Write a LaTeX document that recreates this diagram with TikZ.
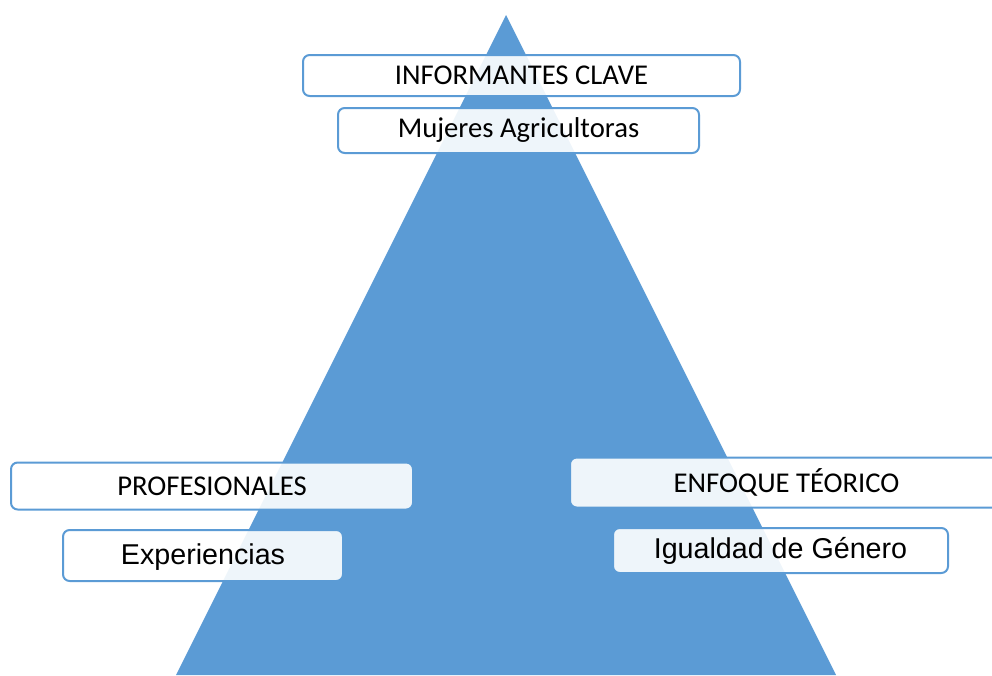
\documentclass[tikz,border=0pt]{standalone}
\usepackage{fontspec}
\newfontfamily\calibrifont{Carlito}
\newfontfamily\arialfont{Liberation Sans}
\definecolor{pyrblue}{HTML}{5B9BD5}
\begin{document}
\begin{tikzpicture}[x=0.75pt,y=-0.75pt,
  box/.style={draw=pyrblue,line width=1.5pt,rounded corners=5pt,fill=white,fill opacity=0.9,text opacity=1,inner sep=0pt},
  capstext/.style={font=\calibrifont\fontsize{21.5}{26}\selectfont},
  plaintext/.style={font=\arialfont\fontsize{21.5}{26}\selectfont}]
\useasboundingbox (0,0) rectangle (992,675);
\clip (0,0) rectangle (992,675);

%Triangle
\fill [pyrblue] (506,15) -- (836,675) -- (176,675) -- cycle;

%Top: informantes
\node [box,capstext,minimum width=437*0.75pt,minimum height=41*0.75pt] (informantes) at (521.5,75.5) {INFORMANTES CLAVE};
\node [box,capstext,minimum width=361*0.75pt,minimum height=45*0.75pt] (mujeres) at (518.5,130.5) {Mujeres Agricultoras};

%Left: profesionales
\node [box,capstext,minimum width=402*0.75pt,minimum height=47*0.75pt] (profesionales) at (212,486) {PROFESIONALES};
\node [box,plaintext,text height=17pt,text depth=3pt,minimum width=280*0.75pt,minimum height=51*0.75pt] (experiencias) at (203,555.5) {Experiencias};

%Right: enfoque
\node [box,capstext,minimum width=433*0.75pt,minimum height=50*0.75pt] (enfoque) at (786.5,482.5) {ENFOQUE TÉORICO};
\node [box,plaintext,minimum width=335*0.75pt,minimum height=45*0.75pt] (igualdad) at (780.5,550.5) {Igualdad de Género};
\end{tikzpicture}
\end{document}
